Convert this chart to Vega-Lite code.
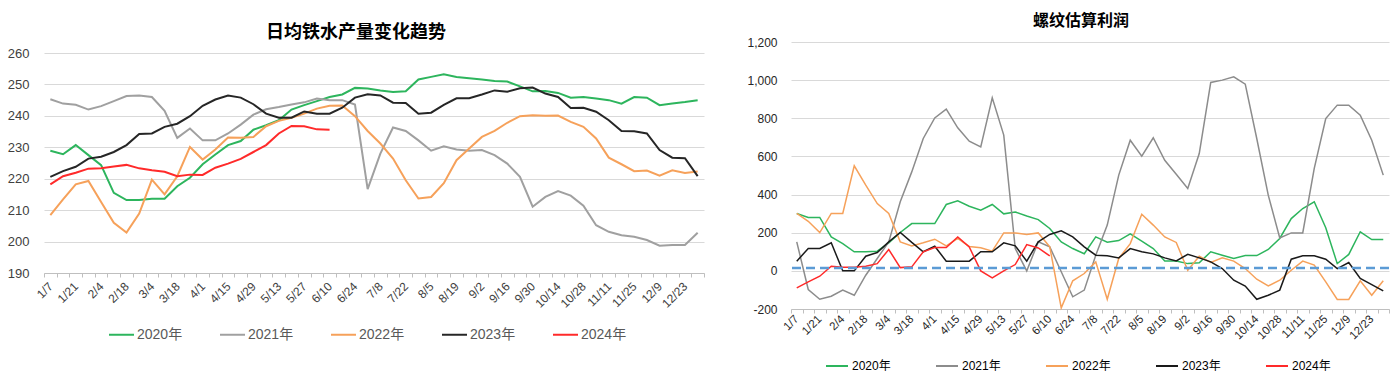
{
  "$schema": "https://vega.github.io/schema/vega-lite/v6.json",
  "background": "white",
  "padding": {"left": 7, "top": 13, "right": 5, "bottom": 5},
  "spacing": 41,
  "config": {
    "font": "Liberation Sans, Noto Sans CJK SC",
    "view": {"stroke": null},
    "axis": {"labelOverlap": false},
    "axisY": {"labelOverlap": false},
    "title": {"font": "Noto Sans CJK SC", "fontWeight": "bold", "color": "#000000"}
  },
  "datasets": {
    "iron": [
      {"d": "1/7", "2020年": 228.9, "2021年": 245.3, "2022年": 208.4, "2023年": 220.6, "2024年": 218.2},
      {"d": "1/14", "2020年": 227.8, "2021年": 243.9, "2022年": 213.4, "2023年": 222.4, "2024年": 220.8},
      {"d": "1/21", "2020年": 230.7, "2021年": 243.5, "2022年": 218.2, "2023年": 223.8, "2024年": 221.9},
      {"d": "1/28", "2020年": 227.5, "2021年": 242.0, "2022年": 219.3, "2023年": 226.4, "2024年": 223.2},
      {"d": "2/4", "2020年": 224.3, "2021年": 243.1, "2022年": 212.6, "2023年": 227.0, "2024年": 223.3},
      {"d": "2/11", "2020年": 215.5, "2021年": 244.7, "2022年": 206.0, "2023年": 228.5, "2024年": 223.9},
      {"d": "2/18", "2020年": 213.2, "2021年": 246.3, "2022年": 202.9, "2023年": 230.7, "2024年": 224.4},
      {"d": "2/25", "2020年": 213.2, "2021年": 246.5, "2022年": 208.9, "2023年": 234.2, "2024年": 223.3},
      {"d": "3/4", "2020年": 213.6, "2021年": 246.0, "2022年": 219.7, "2023年": 234.4, "2024年": 222.7},
      {"d": "3/11", "2020年": 213.6, "2021年": 241.6, "2022年": 215.0, "2023年": 236.5, "2024年": 222.2},
      {"d": "3/18", "2020年": 217.6, "2021年": 233.0, "2022年": 220.8, "2023年": 237.5, "2024年": 220.8},
      {"d": "3/25", "2020年": 220.3, "2021年": 236.0, "2022年": 230.1, "2023年": 239.9, "2024年": 221.3},
      {"d": "4/1", "2020年": 224.6, "2021年": 232.2, "2022年": 226.1, "2023年": 243.2, "2024年": 221.2},
      {"d": "4/8", "2020年": 227.7, "2021年": 232.2, "2022年": 229.3, "2023年": 245.2, "2024年": 223.5},
      {"d": "4/15", "2020年": 230.7, "2021年": 234.4, "2022年": 233.1, "2023年": 246.5, "2024年": 224.8},
      {"d": "4/22", "2020年": 232.0, "2021年": 237.2, "2022年": 233.0, "2023年": 245.8, "2024年": 226.3},
      {"d": "4/29", "2020年": 235.6, "2021年": 240.4, "2022年": 233.3, "2023年": 243.7, "2024年": 228.5},
      {"d": "5/6", "2020年": 237.0, "2021年": 242.1, "2022年": 236.7, "2023年": 240.7, "2024年": 230.7},
      {"d": "5/13", "2020年": 238.6, "2021年": 242.8, "2022年": 238.4, "2023年": 239.4, "2024年": 234.4},
      {"d": "5/20", "2020年": 242.0, "2021年": 243.6, "2022年": 239.4, "2023年": 239.4, "2024年": 236.8},
      {"d": "5/27", "2020年": 243.4, "2021年": 244.3, "2022年": 240.7, "2023年": 241.4, "2024年": 236.7},
      {"d": "6/3", "2020年": 244.7, "2021年": 245.5, "2022年": 242.3, "2023年": 240.7, "2024年": 235.7},
      {"d": "6/10", "2020年": 246.0, "2021年": 245.0, "2022年": 243.2, "2023年": 240.7, "2024年": 235.6},
      {"d": "6/17", "2020年": 246.8, "2021年": 245.0, "2022年": 243.3, "2023年": 242.6, "2024年": null},
      {"d": "6/24", "2020年": 248.9, "2021年": 243.6, "2022年": 239.9, "2023年": 245.8, "2024年": null},
      {"d": "7/1", "2020年": 248.7, "2021年": 216.7, "2022年": 235.2, "2023年": 246.9, "2024年": null},
      {"d": "7/8", "2020年": 248.1, "2021年": 228.0, "2022年": 231.2, "2023年": 246.5, "2024年": null},
      {"d": "7/15", "2020年": 247.6, "2021年": 236.3, "2022年": 226.4, "2023年": 244.2, "2024年": null},
      {"d": "7/22", "2020年": 247.8, "2021年": 235.2, "2022年": 219.5, "2023年": 244.1, "2024年": null},
      {"d": "7/29", "2020年": 251.6, "2021年": 232.2, "2022年": 213.7, "2023年": 240.7, "2024年": null},
      {"d": "8/5", "2020年": 252.4, "2021年": 228.9, "2022年": 214.2, "2023年": 241.0, "2024年": null},
      {"d": "8/12", "2020年": 253.2, "2021年": 230.3, "2022年": 218.6, "2023年": 243.5, "2024年": null},
      {"d": "8/19", "2020年": 252.4, "2021年": 229.3, "2022年": 225.9, "2023年": 245.6, "2024年": null},
      {"d": "8/26", "2020年": 252.0, "2021年": 228.9, "2022年": 229.6, "2023年": 245.6, "2024年": null},
      {"d": "9/2", "2020年": 251.6, "2021年": 229.1, "2022年": 233.3, "2023年": 246.8, "2024年": null},
      {"d": "9/9", "2020年": 251.1, "2021年": 227.5, "2022年": 235.2, "2023年": 248.1, "2024年": null},
      {"d": "9/16", "2020年": 250.9, "2021年": 224.8, "2022年": 237.8, "2023年": 247.7, "2024年": null},
      {"d": "9/23", "2020年": 249.4, "2021年": 220.6, "2022年": 239.9, "2023年": 248.8, "2024年": null},
      {"d": "9/30", "2020年": 247.8, "2021年": 211.1, "2022年": 240.2, "2023年": 249.0, "2024年": null},
      {"d": "10/7", "2020年": 247.9, "2021年": 214.2, "2022年": 240.0, "2023年": 247.1, "2024年": null},
      {"d": "10/14", "2020年": 247.3, "2021年": 216.1, "2022年": 240.1, "2023年": 246.0, "2024年": null},
      {"d": "10/21", "2020年": 245.8, "2021年": 214.6, "2022年": 238.1, "2023年": 242.5, "2024年": null},
      {"d": "10/28", "2020年": 246.0, "2021年": 211.4, "2022年": 236.5, "2023年": 242.6, "2024年": null},
      {"d": "11/4", "2020年": 245.5, "2021年": 205.2, "2022年": 232.8, "2023年": 241.3, "2024年": null},
      {"d": "11/11", "2020年": 245.0, "2021年": 203.1, "2022年": 226.7, "2023年": 238.6, "2024年": null},
      {"d": "11/18", "2020年": 243.9, "2021年": 202.0, "2022年": 224.6, "2023年": 235.2, "2024年": null},
      {"d": "11/25", "2020年": 246.0, "2021年": 201.5, "2022年": 222.4, "2023年": 235.1, "2024年": null},
      {"d": "12/2", "2020年": 245.8, "2021年": 200.5, "2022年": 222.6, "2023年": 234.4, "2024年": null},
      {"d": "12/9", "2020年": 243.4, "2021年": 198.7, "2022年": 221.0, "2023年": 229.1, "2024年": null},
      {"d": "12/16", "2020年": 243.9, "2021年": 198.9, "2022年": 222.7, "2023年": 226.7, "2024年": null},
      {"d": "12/23", "2020年": 244.4, "2021年": 198.9, "2022年": 221.8, "2023年": 226.5, "2024年": null},
      {"d": "12/30", "2020年": 245.0, "2021年": 202.8, "2022年": 222.3, "2023年": 220.8, "2024年": null}
    ],
    "profit": [
      {"d": "1/7", "2020年": 301, "2021年": 152, "2022年": 301, "2023年": 51, "2024年": -89},
      {"d": "1/14", "2020年": 280, "2021年": -98, "2022年": 260, "2023年": 117, "2024年": -58},
      {"d": "1/21", "2020年": 280, "2021年": -149, "2022年": 201, "2023年": 117, "2024年": -28},
      {"d": "1/28", "2020年": 178, "2021年": -133, "2022年": 301, "2023年": 147, "2024年": 24},
      {"d": "2/4", "2020年": 143, "2021年": -101, "2022年": 301, "2023年": 0, "2024年": 19},
      {"d": "2/11", "2020年": 100, "2021年": -128, "2022年": 551, "2023年": 0, "2024年": 19},
      {"d": "2/18", "2020年": 100, "2021年": -23, "2022年": 449, "2023年": 77, "2024年": 24},
      {"d": "2/25", "2020年": 103, "2021年": 65, "2022年": 353, "2023年": 96, "2024年": 38},
      {"d": "3/4", "2020年": 147, "2021年": 152, "2022年": 301, "2023年": 152, "2024年": 112},
      {"d": "3/11", "2020年": 201, "2021年": 362, "2022年": 152, "2023年": 201, "2024年": 17},
      {"d": "3/18", "2020年": 248, "2021年": 519, "2022年": 131, "2023年": 149, "2024年": 21},
      {"d": "3/25", "2020年": 248, "2021年": 694, "2022年": 147, "2023年": 100, "2024年": 100},
      {"d": "4/1", "2020年": 248, "2021年": 802, "2022年": 166, "2023年": 129, "2024年": 122},
      {"d": "4/8", "2020年": 348, "2021年": 848, "2022年": 131, "2023年": 51, "2024年": 122},
      {"d": "4/15", "2020年": 367, "2021年": 750, "2022年": 170, "2023年": 51, "2024年": 178},
      {"d": "4/22", "2020年": 339, "2021年": 680, "2022年": 128, "2023年": 51, "2024年": 125},
      {"d": "4/29", "2020年": 318, "2021年": 650, "2022年": 121, "2023年": 100, "2024年": 0},
      {"d": "5/6", "2020年": 348, "2021年": 907, "2022年": 103, "2023年": 100, "2024年": -37},
      {"d": "5/13", "2020年": 299, "2021年": 712, "2022年": 199, "2023年": 147, "2024年": 0},
      {"d": "5/20", "2020年": 309, "2021年": 117, "2022年": 199, "2023年": 131, "2024年": 33},
      {"d": "5/27", "2020年": 288, "2021年": 0, "2022年": 191, "2023年": 51, "2024年": 138},
      {"d": "6/3", "2020年": 269, "2021年": 152, "2022年": 199, "2023年": 152, "2024年": 120},
      {"d": "6/10", "2020年": 222, "2021年": 126, "2022年": 126, "2023年": 191, "2024年": 78},
      {"d": "6/17", "2020年": 152, "2021年": -5, "2022年": -194, "2023年": 210, "2024年": null},
      {"d": "6/24", "2020年": 117, "2021年": -136, "2022年": -52, "2023年": 178, "2024年": null},
      {"d": "7/1", "2020年": 90, "2021年": -101, "2022年": -14, "2023年": 126, "2024年": null},
      {"d": "7/8", "2020年": 178, "2021年": 82, "2022年": 47, "2023年": 82, "2024年": null},
      {"d": "7/15", "2020年": 150, "2021年": 240, "2022年": -149, "2023年": 79, "2024年": null},
      {"d": "7/22", "2020年": 159, "2021年": 502, "2022年": 65, "2023年": 68, "2024年": null},
      {"d": "7/29", "2020年": 194, "2021年": 685, "2022年": 143, "2023年": 117, "2024年": null},
      {"d": "8/5", "2020年": 156, "2021年": 601, "2022年": 297, "2023年": 100, "2024年": null},
      {"d": "8/12", "2020年": 117, "2021年": 698, "2022年": 240, "2023年": 89, "2024年": null},
      {"d": "8/19", "2020年": 52, "2021年": 580, "2022年": 178, "2023年": 68, "2024年": null},
      {"d": "8/26", "2020年": 52, "2021年": 507, "2022年": 149, "2023年": 52, "2024年": null},
      {"d": "9/2", "2020年": 38, "2021年": 432, "2022年": 3, "2023年": 87, "2024年": null},
      {"d": "9/9", "2020年": 42, "2021年": 615, "2022年": 77, "2023年": 68, "2024年": null},
      {"d": "9/16", "2020年": 100, "2021年": 988, "2022年": 44, "2023年": 47, "2024年": null},
      {"d": "9/23", "2020年": 82, "2021年": 1000, "2022年": 68, "2023年": 12, "2024年": null},
      {"d": "9/30", "2020年": 65, "2021年": 1017, "2022年": 51, "2023年": -49, "2024年": null},
      {"d": "10/7", "2020年": 80, "2021年": 979, "2022年": 12, "2023年": -80, "2024年": null},
      {"d": "10/14", "2020年": 80, "2021年": 694, "2022年": -44, "2023年": -149, "2024年": null},
      {"d": "10/21", "2020年": 112, "2021年": 397, "2022年": -79, "2023年": -128, "2024年": null},
      {"d": "10/28", "2020年": 170, "2021年": 173, "2022年": -49, "2023年": -101, "2024年": null},
      {"d": "11/4", "2020年": 274, "2021年": 199, "2022年": 3, "2023年": 61, "2024年": null},
      {"d": "11/11", "2020年": 327, "2021年": 199, "2022年": 51, "2023年": 79, "2024年": null},
      {"d": "11/18", "2020年": 362, "2021年": 537, "2022年": 30, "2023年": 79, "2024年": null},
      {"d": "11/25", "2020年": 226, "2021年": 799, "2022年": -58, "2023年": 61, "2024年": null},
      {"d": "12/2", "2020年": 38, "2021年": 869, "2022年": -150, "2023年": 12, "2024年": null},
      {"d": "12/9", "2020年": 86, "2021年": 869, "2022年": -150, "2023年": 44, "2024年": null},
      {"d": "12/16", "2020年": 205, "2021年": 816, "2022年": -52, "2023年": -40, "2024年": null},
      {"d": "12/23", "2020年": 164, "2021年": 685, "2022年": -128, "2023年": -72, "2024年": null},
      {"d": "12/30", "2020年": 164, "2021年": 502, "2022年": -52, "2023年": -105, "2024年": null}
    ]
  },
  "hconcat": [
    {
      "width": 660,
      "height": 231,
      "title": {"text": "日均铁水产量变化趋势", "fontSize": 18, "frame": "bounds", "anchor": "middle", "baseline": "bottom", "offset": -18},
      "data": {"name": "iron"},
      "transform": [{"fold": ["2020年", "2021年", "2022年", "2023年", "2024年"], "as": ["year", "v"]}],
      "mark": {"type": "line", "strokeWidth": 2},
      "encoding": {
        "x": {
          "field": "d", "type": "ordinal", "sort": null, "bandPosition": 0.5,
          "scale": {"type": "band", "paddingInner": 0, "paddingOuter": 0},
          "axis": {
            "title": null, "labelAngle": -45, "labelAlign": "right", "labelBaseline": "middle",
            "labelFontSize": 12, "labelColor": "#404040", "labelPadding": 7, "labelOverlap": false,
            "tickBand": "extent", "tickSize": 4, "tickColor": "#bfbfbf", "domainColor": "#bfbfbf", "grid": false,
            "labelExpr": "indexof(['1/7','1/21','2/4','2/18','3/4','3/18','4/1','4/15','4/29','5/13','5/27','6/10','6/24','7/8','7/22','8/5','8/19','9/2','9/16','9/30','10/14','10/28','11/11','11/25','12/9','12/23'], datum.value) >= 0 ? datum.label : ''"
          }
        },
        "y": {
          "field": "v", "type": "quantitative",
          "scale": {"domain": [190, 263.5], "nice": false, "zero": false},
          "axis": {"title": null, "values": [190, 200, 210, 220, 230, 240, 250, 260], "labelOverlap": false, "grid": true, "gridColor": "#d9d9d9", "domain": false, "ticks": false, "labelFontSize": 13, "labelColor": "#404040", "labelPadding": 15}
        },
        "color": {
          "field": "year", "type": "nominal",
          "scale": {"domain": ["2020年", "2021年", "2022年", "2023年", "2024年"], "range": ["#2db55d", "#a0a0a0", "#f6a15a", "#262626", "#ff2a2a"]},
          "legend": {"orient": "none", "legendX": 64, "legendY": 279, "direction": "horizontal", "title": null, "symbolType": "stroke", "symbolSize": 625, "symbolStrokeWidth": 2, "labelFontSize": 14, "labelColor": "#595959", "columnPadding": 33, "labelOffset": 2, "padding": 0}
        }
      }
    },
    {
      "width": 598,
      "height": 267,
      "title": {"text": "螺纹估算利润", "fontSize": 16, "frame": "group", "anchor": "middle", "baseline": "bottom", "offset": -9, "dx": -9},
      "layer": [
        {
          "data": {"name": "profit"},
          "transform": [{"fold": ["2020年", "2021年", "2022年", "2023年", "2024年"], "as": ["year", "v"]}],
          "mark": {"type": "line", "strokeWidth": 1.5},
          "encoding": {
            "x": {
              "field": "d", "type": "ordinal", "sort": null, "bandPosition": 0.5,
              "scale": {"type": "band", "paddingInner": 0, "paddingOuter": 0},
              "axis": {
                "title": null, "labelAngle": -45, "labelAlign": "right", "labelBaseline": "middle",
                "labelFontSize": 11.5, "labelColor": "#262626", "labelPadding": 4, "labelOverlap": false,
                "tickBand": "extent", "tickSize": 4, "tickColor": "#bfbfbf", "domainColor": "#bfbfbf", "grid": false,
                "labelExpr": "indexof(['1/7','1/21','2/4','2/18','3/4','3/18','4/1','4/15','4/29','5/13','5/27','6/10','6/24','7/8','7/22','8/5','8/19','9/2','9/16','9/30','10/14','10/28','11/11','11/25','12/9','12/23'], datum.value) >= 0 ? datum.label : ''"
              }
            },
            "y": {
              "field": "v", "type": "quantitative",
              "scale": {"domain": [-200, 1200], "nice": false, "zero": false},
              "axis": {"title": null, "values": [-200, 0, 200, 400, 600, 800, 1000, 1200], "labelOverlap": false, "grid": true, "gridColor": "#d9d9d9", "domain": false, "ticks": false, "labelFontSize": 12, "labelColor": "#262626", "labelPadding": 14, "labelExpr": "replace(format(datum.value, ','), '−', '-')"}
            },
            "color": {
              "field": "year", "type": "nominal",
              "scale": {"domain": ["2020年", "2021年", "2022年", "2023年", "2024年"], "range": ["#2db55d", "#8c8c8c", "#f6a15a", "#1a1a1a", "#ff2a2a"]},
              "legend": {"orient": "none", "legendX": 34, "legendY": 312, "direction": "horizontal", "title": null, "symbolType": "stroke", "symbolSize": 484, "symbolStrokeWidth": 2, "labelFontSize": 12, "labelColor": "#000000", "columnPadding": 41, "labelOffset": 3, "padding": 0}
            }
          }
        },
        {
          "data": {"values": [{}]},
          "mark": {"type": "rule", "color": "#5b9bd5", "strokeWidth": 2.5, "strokeDash": [9, 5]},
          "encoding": {"y": {"datum": 15, "axis": {"title": null, "values": [-200, 0, 200, 400, 600, 800, 1000, 1200], "labelOverlap": false, "grid": true, "gridColor": "#d9d9d9", "domain": false, "ticks": false, "labelFontSize": 12, "labelColor": "#262626", "labelPadding": 14, "labelExpr": "replace(format(datum.value, ','), '−', '-')"}}}
        }
      ]
    }
  ],
  "resolve": {"scale": {"color": "independent"}, "legend": {"color": "independent"}}
}
